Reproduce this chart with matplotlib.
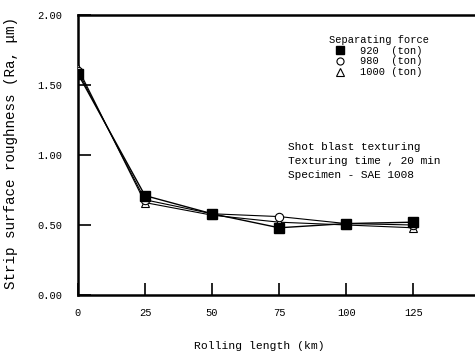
import matplotlib
matplotlib.use("Agg")
import matplotlib.pyplot as plt

rolling_km = [0, 25, 50, 75, 100, 125]
force_920 = [1.58, 0.71, 0.58, 0.48, 0.51, 0.52]
force_980 = [1.60, 0.68, 0.58, 0.56, 0.51, 0.50]
force_1000 = [1.62, 0.66, 0.57, 0.52, 0.50, 0.48]
series_labels = ["920  (ton)", "980  (ton)", "1000 (ton)"]
x_ticks = [0, 25, 50, 75, 100, 125]
y_ticks = [0.0, 0.5, 1.0, 1.5, 2.0]

mono = "Liberation Mono"

fig = plt.figure(figsize=(4.75, 3.55), dpi=100)
ax = fig.add_axes([0.164, 0.169, 0.836, 0.789])

ax.plot(rolling_km, force_1000, color="black", lw=0.8, marker="^", ms=6,
        mfc="white", mec="black", mew=0.8, label=series_labels[2], zorder=3)
ax.plot(rolling_km, force_980, color="black", lw=0.8, marker="o", ms=6,
        mfc="white", mec="black", mew=0.8, label=series_labels[1], zorder=4)
ax.plot(rolling_km, force_920, color="black", lw=1.0, marker="s", ms=6.5,
        mfc="black", mec="black", label=series_labels[0], zorder=5)

ax.set_xlim(0, 148)
ax.set_ylim(0, 2.0)
ax.set_xticks(x_ticks)
ax.set_yticks(y_ticks)
ax.set_yticklabels([f"{v:.2f}" for v in y_ticks], fontfamily=mono, fontsize=7.5)
ax.set_xticklabels([str(v) for v in x_ticks], fontfamily=mono, fontsize=7.5)
ax.tick_params(direction="in", length=9, width=1.2, pad=9)
ax.tick_params(axis="y", pad=11)
ax.spines["right"].set_visible(False)
for s in ["left", "bottom", "top"]:
    ax.spines[s].set_linewidth(1.8)

ax.set_xlabel("Rolling length (km)", fontfamily=mono, fontsize=8.2, va="center")
ax.xaxis.set_label_coords(0.456, -0.182)
ax.set_ylabel("Strip surface roughness (Ra, \u03bcm)", fontfamily=mono,
              fontsize=10.3, va="center")
ax.yaxis.set_label_coords(-0.169, 0.507)

handles, labels = ax.get_legend_handles_labels()
order = [2, 1, 0]
leg = ax.legend([handles[i] for i in order], [labels[i] for i in order],
                title="Separating force", frameon=False,
                loc="upper left", bbox_to_anchor=(0.613, 0.955),
                prop={"family": mono, "size": 7.5}, handlelength=1.0,
                handletextpad=1.5, labelspacing=0.08, borderpad=0.2,
                markerscale=0.85)
leg.get_title().set_fontfamily(mono)
leg.get_title().set_fontsize(7.5)
for h in leg.legend_handles:
    h.set_linestyle("none")

ax.text(0.53, 0.545, "Shot blast texturing\nTexturing time , 20 min\nSpecimen - SAE 1008",
        transform=ax.transAxes, fontfamily=mono, fontsize=8, va="top",
        linespacing=1.45)

fig.savefig("out.png", dpi=100)
